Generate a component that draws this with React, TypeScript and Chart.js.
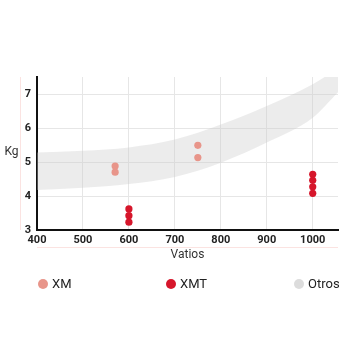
import React, { useEffect, useRef } from "react";
import { Chart, registerables } from "chart.js";

Chart.register(...registerables);

const xmX = [570, 570, 750, 750];
const xmY = [4.88, 4.7, 5.49, 5.13];
const xmtX = [600, 600, 600, 1000, 1000, 1000, 1000];
const xmtY = [3.62, 3.42, 3.23, 4.64, 4.46, 4.27, 4.08];
const bandX = [400, 500, 600, 700, 800, 900, 1000, 1055];
const bandLow = [4.18, 4.24, 4.35, 4.56, 4.98, 5.57, 6.3, 7.05];
const bandHigh = [5.28, 5.33, 5.43, 5.66, 6.1, 6.65, 7.29, 7.75];
const xTicks = [400, 500, 600, 700, 800, 900, 1000];
const yTicks = [3, 4, 5, 6, 7];
const legendLabels = ["XM", "XMT", "Otros"];
const legendColors = ["#e8958a", "#d6162b", "#dcdcdc"];

const FONT = "Roboto, 'Noto Sans', sans-serif";

const decor = {
  id: "decor",
  beforeDraw(chart: any) {
    const { ctx, chartArea } = chart;
    ctx.save();
    ctx.strokeStyle = "#fbe3e1";
    ctx.lineWidth = 1;
    ctx.beginPath();
    ctx.moveTo(20.5, chartArea.top);
    ctx.lineTo(20.5, chartArea.bottom);
    ctx.moveTo(chartArea.left, 247.5);
    ctx.lineTo(chartArea.right, 247.5);
    ctx.stroke();
    ctx.restore();
  },
};

export default function App() {
  const ref = useRef<HTMLCanvasElement>(null);
  useEffect(() => {
    if (!ref.current) return;
    const chart = new Chart(ref.current, {
      type: "scatter",
      data: {
        datasets: [
          {
            label: "low",
            type: "line",
            data: bandX.map((x, i) => ({ x, y: bandLow[i] })),
            borderWidth: 0,
            pointRadius: 0,
            cubicInterpolationMode: "monotone",
            fill: false,
            order: 3,
          } as any,
          {
            label: "Otros",
            type: "line",
            data: bandX.map((x, i) => ({ x, y: bandHigh[i] })),
            borderWidth: 0,
            pointRadius: 0,
            cubicInterpolationMode: "monotone",
            backgroundColor: "rgba(200,200,200,0.35)",
            fill: "-1",
            order: 3,
          } as any,
          {
            label: "XM",
            data: xmX.map((x, i) => ({ x, y: xmY[i] })),
            backgroundColor: legendColors[0],
            borderWidth: 0,
            pointRadius: 3.6,
            order: 1,
          },
          {
            label: "XMT",
            data: xmtX.map((x, i) => ({ x, y: xmtY[i] })),
            backgroundColor: legendColors[1],
            borderWidth: 0,
            pointRadius: 3.6,
            order: 1,
          },
        ],
      },
      options: {
        animation: false,
        responsive: false,
        layout: { padding: { left: 0, top: 77, right: 22, bottom: 0 } },
        plugins: { legend: { display: false }, tooltip: { enabled: false } },
        scales: {
          x: {
            type: "linear",
            min: 400,
            max: 1055,
            afterFit: (s: any) => { s.height = 130; },
            afterBuildTicks: (s: any) => { s.ticks = xTicks.map((v) => ({ value: v })); },
            grid: { color: "#e6e6e6", drawTicks: false, lineWidth: 1 },
            border: { color: "#111", width: 2 },
            ticks: {
              padding: 4,
              color: "#222",
              font: { family: FONT, size: 11, weight: "bold" },
              maxRotation: 0,
              callback: (v: any) => String(v),
            },
          },
          y: {
            type: "linear",
            min: 3,
            max: 7.5,
            afterFit: (s: any) => { s.width = 37; },
            afterBuildTicks: (s: any) => { s.ticks = yTicks.map((v) => ({ value: v })); },
            grid: { color: "#e6e6e6", drawTicks: false, lineWidth: 1 },
            border: { color: "#111", width: 2 },
            ticks: {
              padding: 6,
              color: "#222",
              font: { family: FONT, size: 11, weight: "bold" },
              callback: (v: any) => String(v),
            },
          },
        },
      },
      plugins: [decor],
    } as any);
    return () => chart.destroy();
  }, []);

  const legendX = [43, 171, 299];
  return (
    <div style={{ position: "fixed", left: 0, top: 0, width: 360, height: 360, background: "#fff", fontFamily: FONT }}>
      <canvas ref={ref} width={360} height={360} style={{ position: "absolute", left: 0, top: 0 }} />
      <div style={{ position: "absolute", left: 0, width: 23, top: 144, textAlign: "center", fontSize: 12, color: "#333" }}>Kg</div>
      <div style={{ position: "absolute", left: 37, width: 301, top: 247, textAlign: "center", fontSize: 12, color: "#333" }}>Vatios</div>
      {legendLabels.map((l, i) => (
        <div key={l} style={{ position: "absolute", left: legendX[i] - 5, top: 276, display: "flex", alignItems: "center", fontSize: 13, color: "#222" }}>
          <span style={{ display: "inline-block", width: 10, height: 10, borderRadius: 5, background: legendColors[i], marginRight: 4 }} />
          {l}
        </div>
      ))}
    </div>
  );
}
